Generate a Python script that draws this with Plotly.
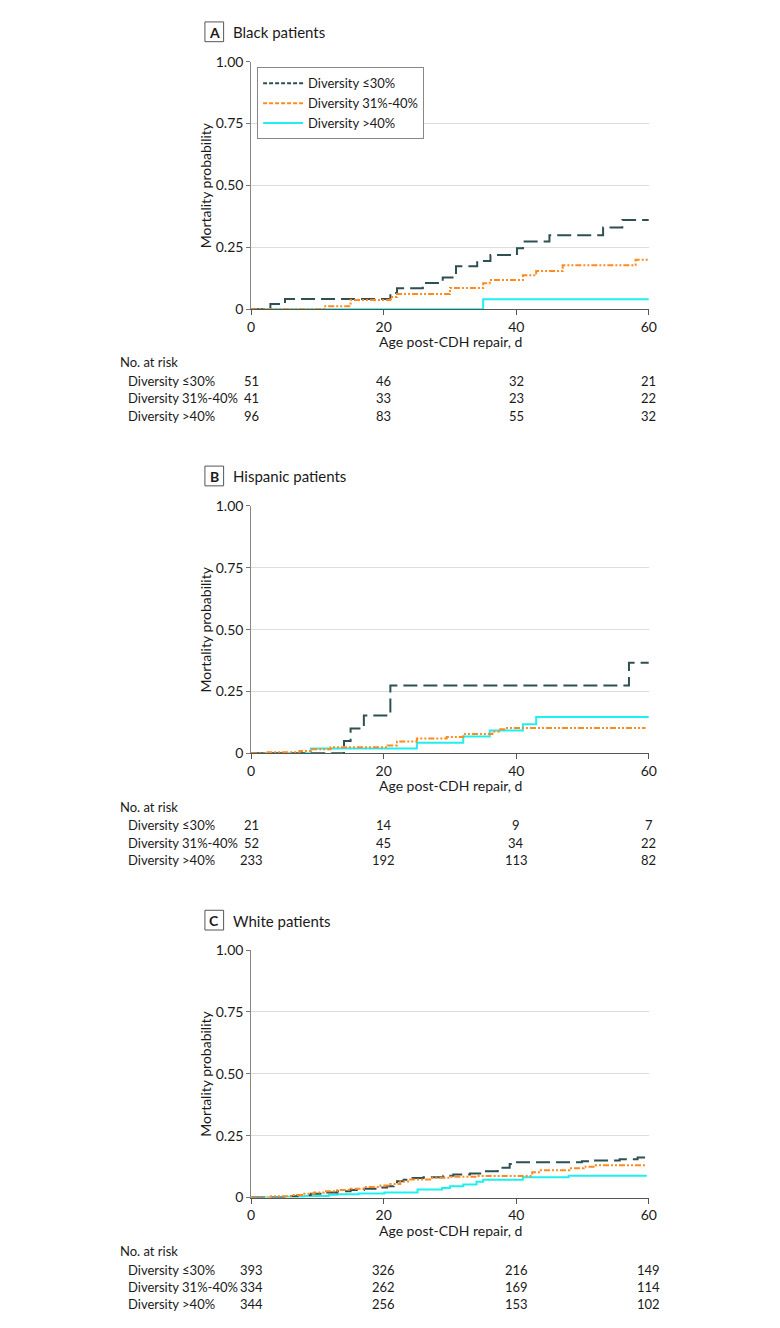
import plotly.graph_objects as go

# page is 780x1328; the browser adds an 8px body margin around the figure
PAGE_W, PAGE_H, BODY = 780, 1328, 8
W, H = PAGE_W - 2 * BODY, PAGE_H - 2 * BODY
FONT = "Lato, 'Liberation Sans', sans-serif"
TXT = "#1a1a1a"

# ---------------- data ----------------
groups = ["Diversity ≤30%", "Diversity 31%-40%", "Diversity >40%"]
colors = ["#2E5052", "#FF8A1E", "#1EF0F0"]

panels = ["Black patients", "Hispanic patients", "White patients"]
panel_letters = ["A", "B", "C"]

# Panel A - Black patients
a_low_t = [0, 2.9, 5.1, 21, 22, 25.9, 28.9, 30.9, 34.1, 36.1, 40.1, 41, 45, 53.1, 56, 60]
a_low_y = [0, 0.021, 0.041, 0.065, 0.085, 0.106, 0.128, 0.173, 0.195, 0.219, 0.246, 0.273, 0.299, 0.33, 0.36, 0.36]
a_mid_t = [0, 11, 15, 21, 22, 30, 35, 36, 41, 43, 47, 58, 60]
a_mid_y = [0, 0.012, 0.037, 0.049, 0.061, 0.086, 0.105, 0.118, 0.137, 0.154, 0.177, 0.2, 0.2]
a_high_t = [0, 35, 60]
a_high_y = [0, 0.04, 0.04]

# Panel B - Hispanic patients
b_low_t = [0, 14, 15, 17, 21, 57, 60]
b_low_y = [0, 0.05, 0.10, 0.153, 0.274, 0.366, 0.366]
b_mid_t = [0, 2.5, 7.3, 9, 12, 20.6, 22, 25, 29.5, 32, 36.4, 37.4, 38.2, 59.5]
b_mid_y = [0, 0.004, 0.009, 0.016, 0.025, 0.032, 0.048, 0.06, 0.066, 0.078, 0.088, 0.097, 0.102, 0.102]
b_high_t = [0, 9, 25, 32, 36, 41, 43, 60]
b_high_y = [0, 0.02, 0.043, 0.068, 0.092, 0.118, 0.147, 0.147]

# Panel C - White patients
c_low_t = [0, 5, 7, 9, 11, 13, 15, 17, 19, 20.5, 21.5, 22, 23, 24, 26, 29, 30.5, 33, 35, 37.2, 39, 39.7,
           49.9, 51.6, 55.6, 58.3, 59.5, 60]
c_low_y = [0, 0.005, 0.01, 0.015, 0.02, 0.025, 0.03, 0.035, 0.04, 0.045, 0.055, 0.066, 0.072, 0.079, 0.082,
           0.088, 0.093, 0.097, 0.106, 0.12, 0.135, 0.142, 0.146, 0.15, 0.155, 0.162, 0.167, 0.167]
c_mid_t = [0, 3, 6, 8, 9.5, 11, 13, 15, 17, 19.5, 21, 22.5, 24, 27, 30, 34, 42.4, 43.7, 48, 50.2, 52, 59.5]
c_mid_y = [0, 0.005, 0.01, 0.015, 0.02, 0.025, 0.03, 0.035, 0.042, 0.048, 0.055, 0.065, 0.073, 0.08, 0.084,
           0.087, 0.102, 0.11, 0.118, 0.124, 0.13, 0.13]
c_high_t = [0, 5, 8, 11.7, 13, 16.2, 20.1, 25.1, 28.8, 30, 32, 34, 35, 41, 47.9, 59.7]
c_high_y = [0, 0.003, 0.006, 0.011, 0.013, 0.016, 0.02, 0.032, 0.038, 0.045, 0.053, 0.064, 0.072, 0.082,
            0.088, 0.088]

curves = [
    [(a_low_t, a_low_y), (a_mid_t, a_mid_y), (a_high_t, a_high_y)],
    [(b_low_t, b_low_y), (b_mid_t, b_mid_y), (b_high_t, b_high_y)],
    [(c_low_t, c_low_y), (c_mid_t, c_mid_y), (c_high_t, c_high_y)],
]

risk_times = [0, 20, 40, 60]
risk = [
    [[51, 46, 32, 21], [41, 33, 23, 22], [96, 83, 55, 32]],
    [[21, 14, 9, 7], [52, 45, 34, 22], [233, 192, 113, 82]],
    [[393, 326, 216, 149], [334, 262, 169, 114], [344, 256, 153, 102]],
]

y_ticks = [0, 0.25, 0.5, 0.75, 1.0]
y_ticktext = ["0", "0.25", "0.50", "0.75", "1.00"]
x_ticks = [0, 20, 40, 60]

# ---------------- layout helpers (page pixels -> paper) ----------------
def px_x(x):
    return (x - BODY) / W

def px_y(y):
    return 1 - (y - BODY) / H

plot_left, plot_right = 251, 655
PANEL_STEP = 450
dashes = ["14px,6px", "6px,2px,2px,2px,2px,2px", "solid"]
legend_dashes = ["4px,2px", "4px,2px", "solid"]
draw_order = [2, 0, 1]  # cyan underneath, orange on top

fig = go.Figure()
annotations = []
shapes = []

for p in range(3):
    off = p * PANEL_STEP
    top, bottom = 53.3 + off, 304 + off
    xa = "x" if p == 0 else f"x{p+1}"
    ya = "y" if p == 0 else f"y{p+1}"
    for g in draw_order:
        t, v = curves[p][g]
        fig.add_trace(go.Scatter(
            x=t, y=v, mode="lines", line_shape="hv",
            line=dict(color=colors[g], width=2, dash=dashes[g]),
            showlegend=False, hoverinfo="skip", xaxis=xa, yaxis=ya,
        ))
    axkey = "xaxis" if p == 0 else f"xaxis{p+1}"
    aykey = "yaxis" if p == 0 else f"yaxis{p+1}"
    fig.update_layout(**{
        axkey: dict(
            domain=[px_x(plot_left), px_x(plot_right)], range=[0, 60], anchor=ya,
            tickvals=x_ticks, ticks="outside", ticklen=5, tickcolor="#555555",
            showline=True, linecolor="#555555", linewidth=1, showgrid=False, zeroline=False,
            tickfont=dict(family=FONT, size=14, color=TXT),
        ),
        aykey: dict(
            domain=[px_y(bottom), px_y(top)], range=[0, 1.0], anchor=xa,
            tickvals=y_ticks, ticktext=y_ticktext, ticks="outside", ticklen=4, tickcolor="#777777",
            showline=True, linecolor="#888888", linewidth=1, showgrid=True, gridcolor="#dddddd",
            gridwidth=1, zeroline=False,
            tickfont=dict(family=FONT, size=14, color=TXT),
        ),
    })
    # panel letter box & title
    shapes.append(dict(type="rect", xref="paper", yref="paper",
                       x0=px_x(204), x1=px_x(223), y0=px_y(33 + off), y1=px_y(13 + off),
                       line=dict(color="#555555", width=1), fillcolor="white"))
    annotations.append(dict(x=px_x(213.5), y=px_y(23.5 + off), xref="paper", yref="paper",
                            text=f"<b>{panel_letters[p]}</b>", showarrow=False,
                            xanchor="center", yanchor="middle",
                            font=dict(family=FONT, size=14, color=TXT)))
    annotations.append(dict(x=px_x(231), y=px_y(23.5 + off), xref="paper", yref="paper",
                            text=panels[p], showarrow=False, xanchor="left", yanchor="middle",
                            font=dict(family=FONT, size=15, color=TXT)))
    # axis titles
    annotations.append(dict(x=px_x(205), y=px_y((top + bottom) / 2), xref="paper", yref="paper",
                            text="Mortality probability", textangle=-90, showarrow=False,
                            xanchor="center", yanchor="middle",
                            font=dict(family=FONT, size=14, color=TXT)))
    annotations.append(dict(x=px_x((plot_left + plot_right) / 2), y=px_y(337 + off),
                            xref="paper", yref="paper", text="Age post-CDH repair, d",
                            showarrow=False, xanchor="center", yanchor="middle",
                            font=dict(family=FONT, size=14, color=TXT)))
    # risk table
    annotations.append(dict(x=px_x(116), y=px_y(358 + off), xref="paper", yref="paper",
                            text="No. at risk", showarrow=False, xanchor="left", yanchor="middle",
                            font=dict(family=FONT, size=13, color=TXT)))
    row_y = [377, 394.5, 412]
    for g in range(3):
        annotations.append(dict(x=px_x(124), y=px_y(row_y[g] + off), xref="paper", yref="paper",
                                text=groups[g], showarrow=False, xanchor="left", yanchor="middle",
                                font=dict(family=FONT, size=13, color=TXT)))
        for k, tt in enumerate(risk_times):
            annotations.append(dict(x=tt, y=px_y(row_y[g] + off), xref=xa, yref="paper",
                                    text=str(risk[p][g][k]), showarrow=False,
                                    xanchor="center", yanchor="middle",
                                    font=dict(family=FONT, size=13, color=TXT)))

# legend entries (panel A)
for g in range(3):
    fig.add_trace(go.Scatter(
        x=[None], y=[None], mode="lines", name=groups[g],
        line=dict(color=colors[g], width=2, dash=legend_dashes[g]),
        showlegend=True, xaxis="x", yaxis="y",
    ))

fig.update_layout(
    width=W, height=H, margin=dict(l=0, r=0, t=0, b=0),
    paper_bgcolor="white", plot_bgcolor="white",
    font=dict(family=FONT, size=13, color=TXT),
    showlegend=True,
    legend=dict(x=px_x(257), y=px_y(59), xanchor="left", yanchor="top",
                bgcolor="white", bordercolor="#888888", borderwidth=1,
                font=dict(family=FONT, size=13, color=TXT), tracegroupgap=0,
                itemwidth=40),
    annotations=annotations, shapes=shapes,
)

fig.write_html("out.html", config={"displayModeBar": False})
